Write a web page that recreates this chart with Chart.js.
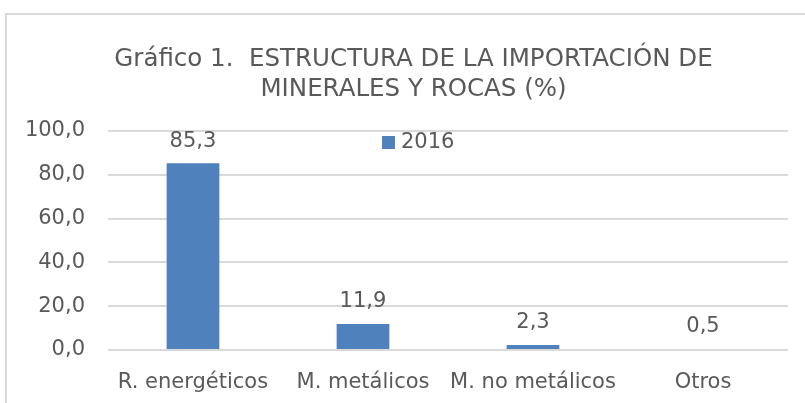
<!DOCTYPE html>
<html>
<head>
<meta charset="utf-8">
<script src="https://cdn.jsdelivr.net/npm/chart.js@4"></script>
<style>
  html, body { margin: 0; padding: 0; background: #fff; }
  #wrap { width: 805px; height: 403px; position: relative; }
</style>
</head>
<body>
<div id="wrap"><canvas id="chart" width="805" height="403"></canvas></div>
<script>
const categories = ["R. energéticos", "M. metálicos", "M. no metálicos", "Otros"];
const seriesLabel = "2016";
const values2016 = [85.3, 11.9, 2.3, 0.5];
const titleLines = ["Gráfico 1.  ESTRUCTURA DE LA IMPORTACIÓN DE", "MINERALES Y ROCAS (%)"];

const FONT = "'DejaVu Sans', sans-serif";
const TEXT = "#595959";
const BAR = "#4f81bd";
const SIZE = 21;

const fmt = (v) => v.toFixed(1).replace(".", ",");

// gray frame of the original chart box; title box nudged right like the original
const framePlugin = {
    id: "frame",
    afterLayout(chart) {
        if (chart.titleBlock) {
            chart.titleBlock.left = 39;
        }
    },
    beforeDraw(chart) {
        const ctx = chart.ctx;
        ctx.save();
        ctx.fillStyle = "#fff";
        ctx.fillRect(0, 0, chart.width, chart.height);
        ctx.strokeStyle = "#d9d9d9";
        ctx.lineWidth = 2;
        ctx.beginPath();
        ctx.moveTo(6, chart.height + 5);
        ctx.lineTo(6, 14);
        ctx.lineTo(chart.width + 5, 14);
        ctx.stroke();
        ctx.restore();
    }
};

// value labels above bars + inline legend
const labelPlugin = {
    id: "valueLabels",
    afterDatasetsDraw(chart) {
        const ctx = chart.ctx;
        const meta = chart.getDatasetMeta(0);
        ctx.save();
        ctx.font = SIZE + "px " + FONT;
        ctx.fillStyle = TEXT;
        ctx.textAlign = "center";
        ctx.textBaseline = "middle";
        meta.data.forEach((bar, i) => {
            ctx.fillText(fmt(values2016[i]), bar.x, bar.y - 22);
        });

        const area = chart.chartArea;
        const lx = area.left + 274;
        const ly = area.top + 11;
        ctx.fillStyle = BAR;
        ctx.fillRect(lx, ly - 6, 13, 13);
        ctx.fillStyle = TEXT;
        ctx.textAlign = "left";
        ctx.fillText(chart.data.datasets[0].label, lx + 19, ly + 1);
        ctx.restore();
    }
};

new Chart(document.getElementById("chart"), {
    type: "bar",
    data: {
        labels: categories,
        datasets: [
            {
                label: seriesLabel,
                data: values2016,
                backgroundColor: BAR,
                borderWidth: 0,
                categoryPercentage: 1,
                barPercentage: 0.31
            }
        ]
    },
    options: {
        responsive: false,
        animation: false,
        layout: {
            padding: { left: 0, right: 17, top: 0, bottom: 0 }
        },
        plugins: {
            legend: { display: false },
            tooltip: { enabled: false },
            title: {
                display: true,
                text: titleLines,
                color: TEXT,
                font: { family: FONT, size: 24.5, weight: "normal", lineHeight: 30 / 24.5 },
                padding: { top: 45, bottom: 26 }
            }
        },
        scales: {
            x: {
                grid: { display: false },
                border: { display: false },
                ticks: {
                    color: TEXT,
                    font: { family: FONT, size: SIZE },
                    padding: 12,
                    maxRotation: 0,
                    autoSkip: false
                },
                afterFit: (scale) => { scale.height = 53; }
            },
            y: {
                min: 0,
                max: 100,
                grid: { color: "#d9d9d9", lineWidth: 2, drawTicks: false },
                border: { display: false },
                ticks: {
                    stepSize: 20,
                    color: TEXT,
                    font: { family: FONT, size: SIZE },
                    padding: 23,
                    callback: (value) => fmt(value)
                },
                afterFit: (scale) => { scale.width = 108; }
            }
        }
    },
    plugins: [framePlugin, labelPlugin]
});
</script>
</body>
</html>
